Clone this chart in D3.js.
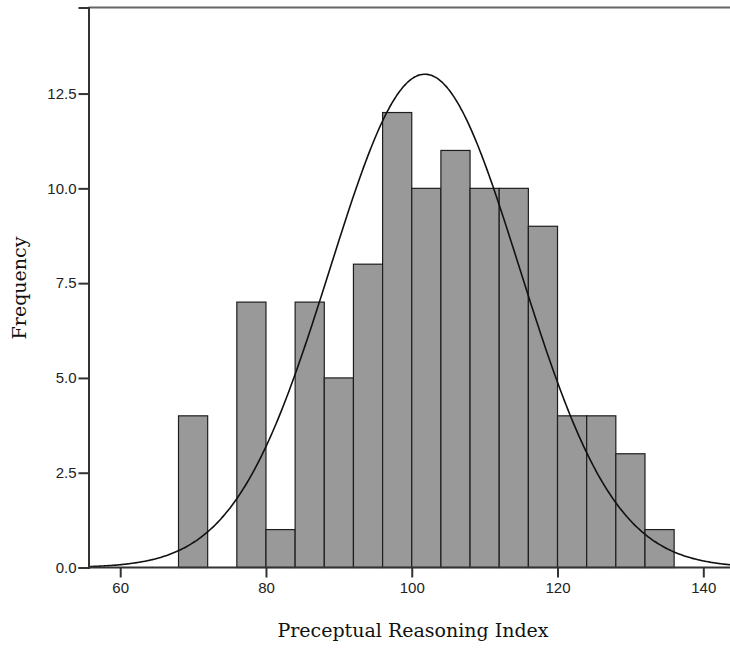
<!DOCTYPE html>
<html>
<head>
<meta charset="utf-8">
<script src="https://cdn.jsdelivr.net/npm/d3@7"></script>
<style>
  body { margin: 0; background: #fff; }
  .tick text { font-family: "Liberation Sans", Arial, sans-serif; font-size: 15px; fill: #222; }
  .title { font-family: "DejaVu Serif", serif; font-size: 19px; fill: #111; }
</style>
</head>
<body>
<div id="chart"></div>
<script>
const width = 730
const height = 648

// Histograma: limites inferiores das classes (largura 4) e frequencias
const binStarts = [68, 72, 76, 80, 84, 88, 92, 96, 100, 104, 108, 112, 116, 120, 124, 128, 132]
const binWidth = 4
const counts = [4, 0, 7, 1, 7, 5, 8, 12, 10, 11, 10, 10, 9, 4, 4, 3, 1]

// Curva normal ajustada (SPSS)
const mean = 101.8
const sd = 13.0

// Ticks
const xTicks = [60, 80, 100, 120, 140]
const yTicks = [0, 2.5, 5, 7.5, 10, 12.5]

const margin = { left: 88.5, top: 7.5, right: 735, bottom: 567.5 }

const n = d3.sum(counts)

let svg = d3.select("#chart")
  .append("svg")
  .attr("width", width)
  .attr("height", height)

const x = d3.scaleLinear()
  .domain([55.65, 144.35])
  .range([margin.left, margin.right])

const y = d3.scaleLinear()
  .domain([0, 14.77])
  .range([margin.bottom, margin.top])

// Moldura superior
svg.append("line")
  .attr("x1", margin.left).attr("x2", width)
  .attr("y1", margin.top).attr("y2", margin.top)
  .style("stroke", "#666")
  .style("stroke-width", 2)

// Barras
svg.selectAll(".bar")
  .data(binStarts.map((s, i) => ({ x0: s, x1: s + binWidth, c: counts[i] })).filter(d => d.c > 0))
  .enter()
  .append("rect")
  .attr("class", "bar")
  .attr("x", d => x(d.x0))
  .attr("width", d => x(d.x1) - x(d.x0))
  .attr("y", d => y(d.c))
  .attr("height", d => y(0) - y(d.c))
  .style("fill", "#999999")
  .style("stroke", "#1e1e1e")
  .style("stroke-width", 1.2)

// Curva normal
const pdf = v => n * binWidth / (sd * Math.sqrt(2 * Math.PI)) * Math.exp(-0.5 * ((v - mean) / sd) ** 2)
const curveX = d3.range(55.65, 144.35, 0.25)
const line = d3.line()
  .x(d => x(d))
  .y(d => y(pdf(d)))
  .curve(d3.curveBasis)

svg.append("path")
  .datum(curveX)
  .attr("d", line)
  .style("fill", "none")
  .style("stroke", "#111")
  .style("stroke-width", 1.6)

// Eixos
const xAxis = svg.append("g")
  .attr("transform", `translate(0,${margin.bottom})`)
  .call(d3.axisBottom(x).tickValues(xTicks).tickSizeOuter(0).tickSize(10).tickPadding(5))
xAxis.select(".domain").attr("d", `M${margin.left},0H${width}`)

const yAxis = svg.append("g")
  .attr("transform", `translate(${margin.left},0)`)
  .call(d3.axisLeft(y).tickValues(yTicks).tickFormat(d3.format(".1f")).tickSizeOuter(0).tickSize(10).tickPadding(2))

svg.selectAll(".domain").style("stroke", "#333").style("stroke-width", 2)
svg.selectAll(".tick line").style("stroke", "#333").style("stroke-width", 2)

// Titulos
svg.append("text")
  .attr("class", "title")
  .attr("x", 413)
  .attr("y", 637)
  .attr("text-anchor", "middle")
  .text("Preceptual Reasoning Index")

svg.append("text")
  .attr("class", "title")
  .attr("transform", "translate(26,288) rotate(-90)")
  .attr("text-anchor", "middle")
  .text("Frequency")
</script>
</body>
</html>
